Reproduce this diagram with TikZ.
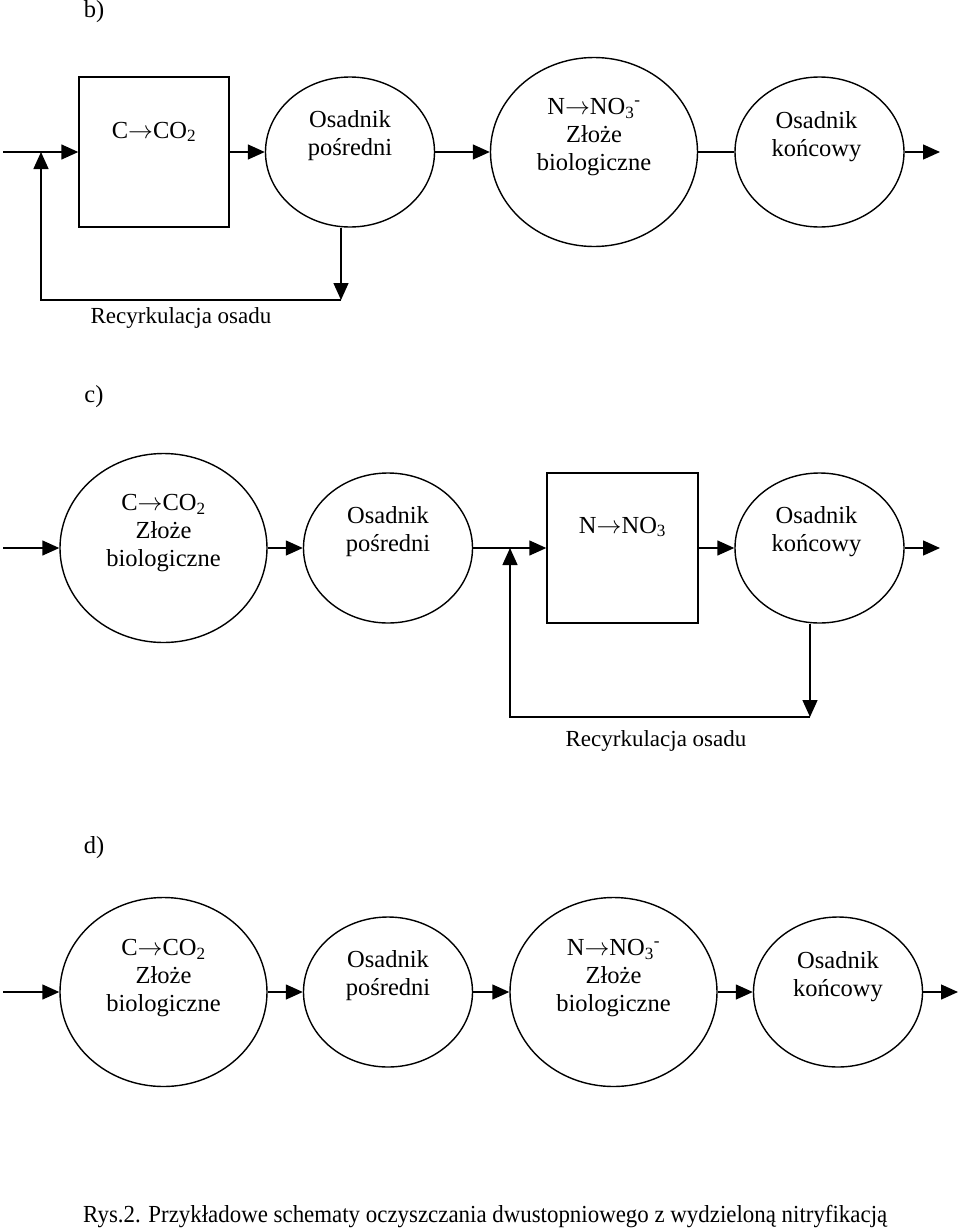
\documentclass[tikz,border=0pt]{standalone}
\usepackage{graphicx}
\usepackage{fontspec}
\setmainfont{Liberation Serif}
\usetikzlibrary{arrows.meta,shapes.geometric}
\newcommand{\yields}{$\rightarrow$}
\tikzset{
  pipe/.style={line width=1.4pt},
  flow/.style={pipe, -{Triangle[length=17pt,width=15pt]}},
  tank/.style={draw, line width=1.4pt, ellipse, minimum width=169pt, minimum height=150pt},
  bed/.style={draw, line width=1.4pt, ellipse, minimum width=207pt, minimum height=189pt},
  basin/.style={draw, line width=1.4pt, rectangle, minimum width=150pt, minimum height=150pt},
  txt/.style={align=center, inner sep=0pt, font=\fontsize{24.5}{28}\selectfont},
  note/.style={inner sep=0pt, font=\fontsize{23}{27}\selectfont},
}
\begin{document}
\begin{tikzpicture}[x=1pt,y=-1pt]
    \useasboundingbox (0,0) rectangle (960,1232);

    % b)
    \node[txt] (tagb) at (94,12) {b)};
    \node[basin] (b1) at (154,152) {};
    \node[txt] (b1t) at ([yshift=20pt]b1.center) {C\yields CO\textsubscript{2}};
    \node[tank] (b2) at (350,152) {};
    \node[txt] (b2t) at ([yshift=16pt]b2.center) {Osadnik\\pośredni};
    \node[bed] (b3) at (594,152) {};
    \node[txt] (b3t) at ([yshift=15pt]b3.center) {N\yields NO\textsubscript{3}\textsuperscript{-}\\Złoże\\biologiczne};
    \node[tank] (b4) at (819.5,152) {};
    \node[txt] (b4t) at ([yshift=15pt,xshift=-3pt]b4.center) {Osadnik\\końcowy};
    \coordinate (bin) at (3,152);
    \coordinate (bout) at (940,152);
    \coordinate (bdrop) at (341,300);
    \coordinate (bret) at (41,300);
    \draw[flow] (bin) -- (b1);
    \draw[flow] (b1) -- (b2);
    \draw[flow] (b2) -- (b3);
    \draw[pipe] (b3) -- (b4);
    \draw[flow] (b4) -- (bout);
    \draw[flow] (bdrop |- b2.south) -- (bdrop);
    \draw[flow] (bdrop) -- (bret) -- (bret |- bin);
    \node[note] (brec) at (181,318) {Recyrkulacja osadu};

    % c)
    \node[txt] (tagc) at (94,397) {c)};
    \node[bed] (c1) at (163.5,548) {};
    \node[txt] (c1t) at ([yshift=15pt]c1.center) {C\yields CO\textsubscript{2}\\Złoże\\biologiczne};
    \node[tank] (c2) at (388,548) {};
    \node[txt] (c2t) at ([yshift=16pt]c2.center) {Osadnik\\pośredni};
    \node[basin, minimum width=151pt] (c3) at (622.5,548) {};
    \node[txt] (c3t) at ([yshift=21pt]c3.center) {N\yields NO\textsubscript{3}};
    \node[tank] (c4) at (819.5,548) {};
    \node[txt] (c4t) at ([yshift=16pt,xshift=-3pt]c4.center) {Osadnik\\końcowy};
    \coordinate (cin) at (3,548);
    \coordinate (cout) at (940,548);
    \coordinate (cdrop) at (810,717);
    \coordinate (cret) at (510,717);
    \draw[flow] (cin) -- (c1);
    \draw[flow] (c1) -- (c2);
    \draw[flow] (c2) -- (c3);
    \draw[flow] (c3) -- (c4);
    \draw[flow] (c4) -- (cout);
    \draw[flow] (cdrop |- c4.south) -- (cdrop);
    \draw[flow] (cdrop) -- (cret) -- (cret |- cin);
    \node[note] (crec) at (656,741) {Recyrkulacja osadu};

    % d)
    \node[txt] (tagd) at (94,848) {d)};
    \node[bed] (d1) at (163.5,992) {};
    \node[txt] (d1t) at ([yshift=14pt]d1.center) {C\yields CO\textsubscript{2}\\Złoże\\biologiczne};
    \node[tank] (d2) at (388,992) {};
    \node[txt] (d2t) at ([yshift=16pt]d2.center) {Osadnik\\pośredni};
    \node[bed] (d3) at (613.5,992) {};
    \node[txt] (d3t) at ([yshift=14pt]d3.center) {N\yields NO\textsubscript{3}\textsuperscript{-}\\Złoże\\biologiczne};
    \node[tank] (d4) at (838,992) {};
    \node[txt] (d4t) at ([yshift=15pt]d4.center) {Osadnik\\końcowy};
    \coordinate (din) at (3,992);
    \coordinate (dout) at (958,992);
    \draw[flow] (din) -- (d1);
    \draw[flow] (d1) -- (d2);
    \draw[flow] (d2) -- (d3);
    \draw[flow] (d3) -- (d4);
    \draw[flow] (d4) -- (dout);

    \node[txt, anchor=base west] (caption) at (83,1222)
        {\resizebox{804pt}{\height}{Rys.2. Przykładowe schematy oczyszczania dwustopniowego z wydzieloną nitryfikacją}};
\end{tikzpicture}
\end{document}
